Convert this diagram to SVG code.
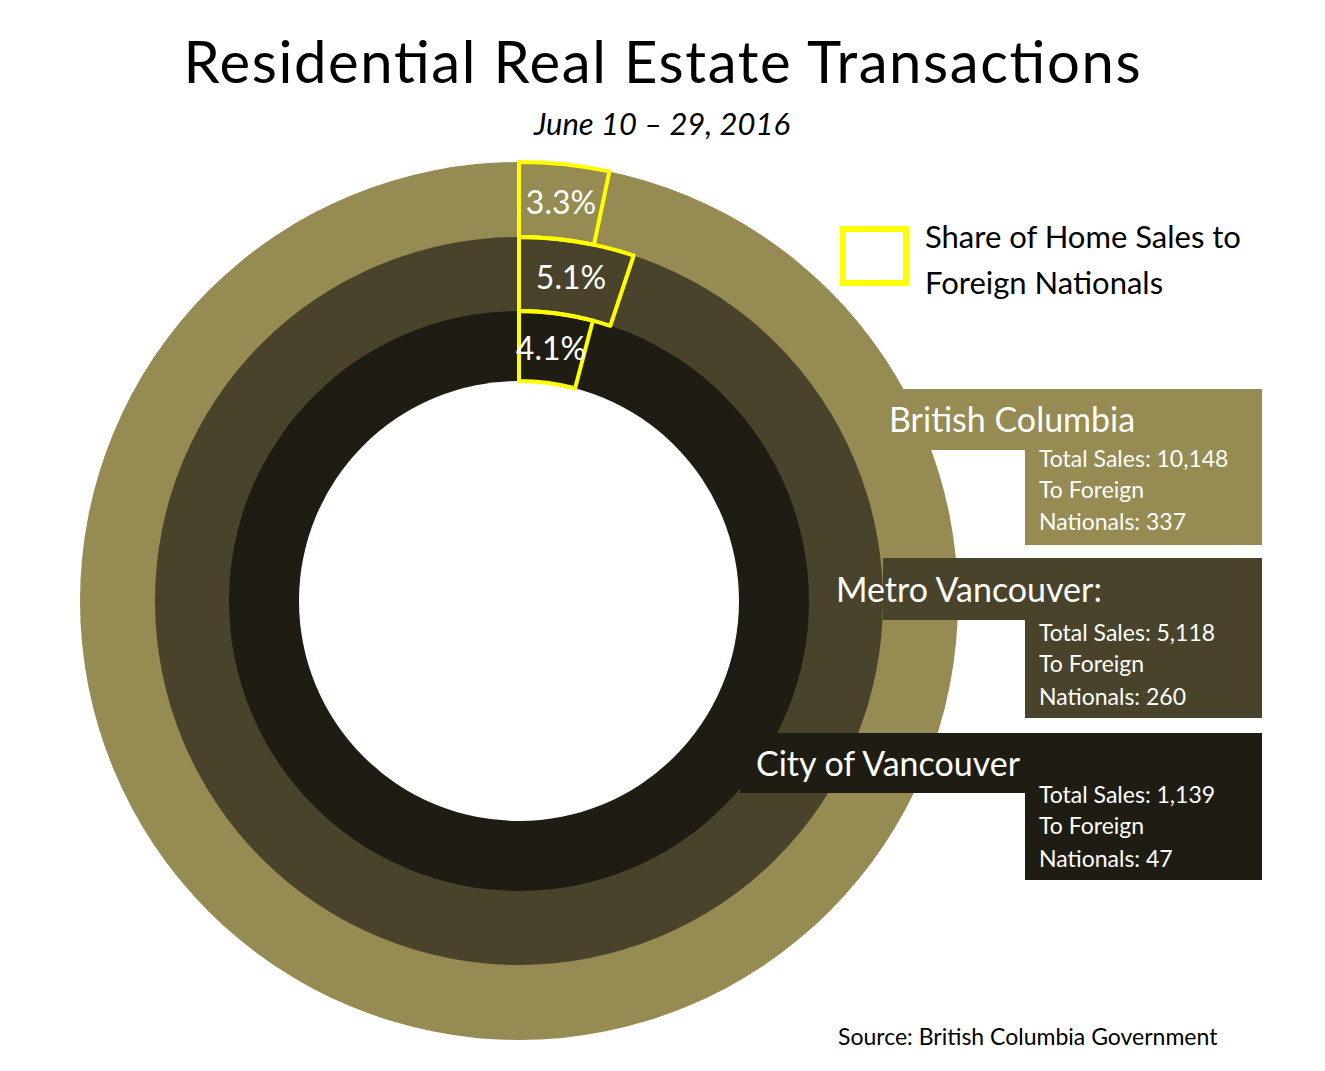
<svg xmlns="http://www.w3.org/2000/svg" width="1325" height="1071" viewBox="0 0 1325 1071">
<style>
text{font-family:Lato,"Open Sans","Liberation Sans",sans-serif}
.w{fill:#fff}
.seg{fill:none;stroke:#ffff00;stroke-width:4;stroke-linejoin:round}
.big{font-size:34px}
.sm{font-size:23px}
.pct{font-size:32px;fill:#fff;text-anchor:middle}
</style>
<rect width="1325" height="1071" fill="#fff"/>
<text x="662" y="83" font-size="58" text-anchor="middle" textLength="957" fill="#000">Residential Real Estate Transactions</text>
<text x="662" y="135" font-size="31" font-style="italic" text-anchor="middle" fill="#000">June 10 – 29, 2016</text>
<g id="rings">
<circle cx="519" cy="601" r="439" fill="#968B53"/>
<circle cx="519" cy="601" r="364" fill="#4A432C"/>
<circle cx="519" cy="601" r="290" fill="#1F1D13"/>
<circle cx="519" cy="601" r="220" fill="#fff"/>
</g>
<g id="bc">
<path d="M900,389H1262V545H1025V450H900Z" fill="#968B53"/>
<text class="w big" x="889" y="432">British Columbia</text>
<text class="w sm" x="1039" y="467">Total Sales: 10,148</text>
<text class="w sm" x="1039" y="498">To Foreign</text>
<text class="w sm" x="1039" y="530">Nationals: 337</text>
</g>
<g id="metro">
<path d="M883,558H1262V718H1025V620H883Z" fill="#4A432C"/>
<text class="w big" x="836" y="602">Metro Vancouver:</text>
<text class="w sm" x="1039" y="641">Total Sales: 5,118</text>
<text class="w sm" x="1039" y="672">To Foreign</text>
<text class="w sm" x="1039" y="705">Nationals: 260</text>
</g>
<g id="city">
<path d="M740,733H1262V880H1025V793H740Z" fill="#1F1D13"/>
<text class="w big" x="756" y="776">City of Vancouver</text>
<text class="w sm" x="1039" y="803">Total Sales: 1,139</text>
<text class="w sm" x="1039" y="834">To Foreign</text>
<text class="w sm" x="1039" y="867">Nationals: 47</text>
</g>
<g id="segments">
<path class="seg" d="M519,162A439,439 0 0 1 609.4,171.4L594,244.8A364,364 0 0 0 519,237Z"/>
<path class="seg" d="M519,237A364,364 0 0 1 633.7,255.5L610.3,325.8A290,290 0 0 0 519,311Z"/>
<path class="seg" d="M519,311A290,290 0 0 1 592.9,320.6L575.1,388.3A220,220 0 0 0 519,381Z"/>
<text class="pct" x="561" y="214">3.3%</text>
<text class="pct" x="571" y="289">5.1%</text>
<text class="pct" x="551" y="360">4.1%</text>
</g>
<g id="legend">
<rect x="843" y="229" width="63" height="54" fill="none" stroke="#ffff00" stroke-width="6"/>
<text x="925" y="248" font-size="31" fill="#000">Share of Home Sales to</text>
<text x="925" y="294" font-size="31" fill="#000">Foreign Nationals</text>
</g>
<text x="838" y="1045" font-size="23" fill="#000">Source: British Columbia Government</text>
</svg>
